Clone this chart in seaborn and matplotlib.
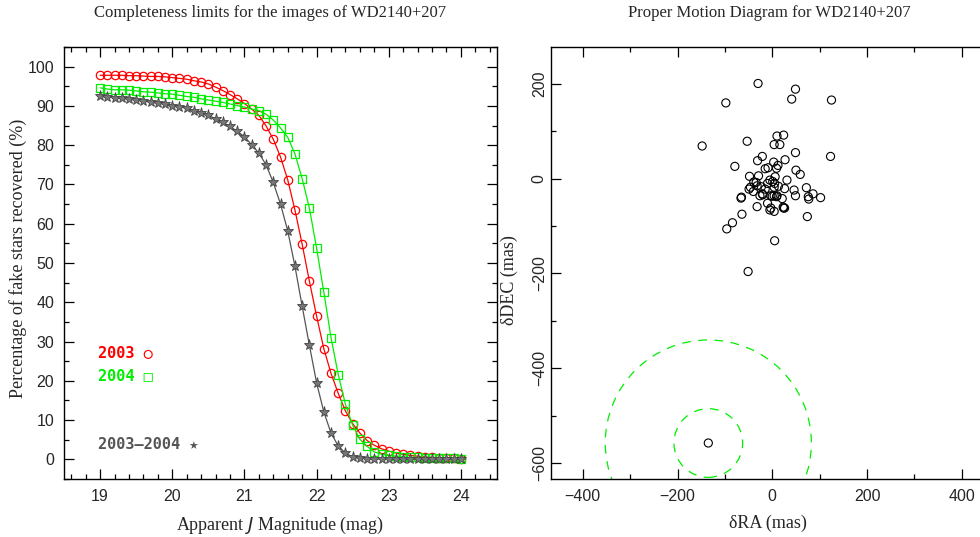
import numpy as np
import seaborn as sns
import matplotlib.pyplot as plt
from matplotlib.patches import Circle
from matplotlib.ticker import MultipleLocator

# ---------------------------------------------------------
# Datos: completitud (porcentaje de estrellas falsas recuperadas)
# ---------------------------------------------------------
mag = np.round(np.arange(19.0, 24.05, 0.1), 1)

rec_2003 = [97.8, 97.8, 97.8, 97.8, 97.7, 97.7, 97.6, 97.5, 97.5, 97.4,
            97.2, 97.0, 96.8, 96.4, 96.1, 95.6, 94.8, 93.9, 92.9, 91.8,
            90.6, 89.2, 87.6, 84.9, 81.5, 77.0, 71.2, 63.5, 54.8, 45.4,
            36.5, 28.2, 21.9, 16.8, 12.3, 9.1, 6.7, 4.8, 3.6, 2.7,
            2.1, 1.6, 1.3, 1.0, 0.8, 0.6, 0.5, 0.4, 0.3, 0.3,
            0.2]
rec_2004 = [94.6, 94.3, 94.1, 94.1, 94.0, 93.8, 93.6, 93.5, 93.3, 93.1,
            93.0, 92.7, 92.4, 92.2, 91.8, 91.5, 91.2, 90.9, 90.5, 90.1,
            89.7, 89.2, 88.8, 87.9, 86.4, 84.4, 82.0, 77.8, 71.5, 64.0,
            53.8, 42.6, 31.0, 21.6, 14.0, 8.7, 5.1, 3.3, 1.9, 1.3,
            1.0, 0.8, 0.6, 0.5, 0.5, 0.4, 0.4, 0.3, 0.3, 0.3,
            0.2]
rec_both = [92.4, 92.3, 92.1, 91.9, 91.8, 91.5, 91.2, 91.0, 90.7, 90.5,
            90.1, 89.8, 89.4, 88.8, 88.3, 87.6, 86.7, 85.8, 84.8, 83.5,
            82.2, 80.1, 78.0, 75.0, 70.5, 65.0, 58.2, 49.2, 39.0, 29.1,
            19.5, 12.1, 6.7, 3.4, 1.6, 0.6, 0.3, 0.2, 0.1, 0.1,
            0.1, 0.1, 0.1, 0.1, 0.1, 0.0, 0.0, 0.0, 0.0, 0.0,
            0.0]

# ---------------------------------------------------------
# Datos: movimiento propio (mas)
# ---------------------------------------------------------
d_ra = [-30, 49, -98, 41, 125, -148, -53, 10, 24, 4, 16, 49, 123, -79, -21,
        -31, 27, 3, 12, 9, -15, -9, 50, 59, -48, -29, 6, -5, 1, 31, -39, -32,
        -46, -23, -15, 4, 13, 26, 46, 72, -65, -66, -49, -40, -26, -21, 0, 9,
        21, 49, 76, 86, 102, -32, -10, 23, -3, -34, -10, 5, 77, -20, -3, 4,
        10, -5, 4, 24, 26, 74, -64, -84, -96, 5, -51]
d_dec = [201, 189, 160, 168, 166, 69, 79, 90, 92, 72, 72, 55, 47, 26, 47,
         38, 40, 35, 28, 22, 21, 23, 18, 9, 5, 6, 4, -3, -6, -3, -7, -15,
         -18, -17, -22, -18, -16, -21, -24, -19, -39, -41, -22, -27, -36, -32,
         -37, -38, -42, -36, -38, -32, -40, -59, -52, -60, -62, -8, -10, -10,
         -43, -34, -36, -36, -36, -66, -69, -62, -62, -80, -75, -93, -106,
         -131, -196]
target_ra, target_dec = -135, -558
r_inner, r_outer = 72.5, 217.5

sns.set_style("ticks")
plt.rcParams['font.family'] = ['Liberation Serif', 'DejaVu Serif']

fig = plt.figure(figsize=(9.8, 5.37), dpi=100)
W, H = 980, 537
ax1 = fig.add_axes([64 / W, 1 - 479 / H, 433 / W, 432 / H])
ax2 = fig.add_axes([551 / W, 1 - 479 / H, 434 / W, 432 / H])

tick_font = dict(family=['Liberation Sans', 'DejaVu Sans'], size=11.5)

# --- panel izquierdo ---
sns.lineplot(x=mag, y=rec_2003, ax=ax1, color='red', lw=0.9, marker='o',
             markersize=6, markerfacecolor='none', markeredgecolor='red',
             markeredgewidth=0.9)
sns.lineplot(x=mag, y=rec_2004, ax=ax1, color='#00ee00', lw=0.9, marker='s',
             markersize=5.5, markerfacecolor='none', markeredgecolor='#00ee00',
             markeredgewidth=0.9)
sns.lineplot(x=mag, y=rec_both, ax=ax1, color='#555555', lw=0.9, marker='*',
             markersize=8, markerfacecolor='#777777', markeredgecolor='#444444',
             markeredgewidth=0.6)

ax1.set_xlim(18.5, 24.5)
ax1.set_ylim(-5, 105)
ax1.xaxis.set_major_locator(MultipleLocator(1))
ax1.xaxis.set_minor_locator(MultipleLocator(0.2))
ax1.yaxis.set_major_locator(MultipleLocator(10))
ax1.yaxis.set_minor_locator(MultipleLocator(5))

lab_font = dict(family=['DejaVu Sans Mono', 'DejaVu Sans'], size=11, weight='bold')
ax1.text(18.97, 27, "2003 ○", color='red', va='center', **lab_font)
ax1.text(18.97, 21.2, "2004 □", color='#00ee00', va='center', **lab_font)
ax1.text(18.97, 3.8, "2003–2004 ★", color='#555555', va='center', **lab_font)

ax1.set_xlabel("Apparent $J$ Magnitude (mag)", fontsize=13)
ax1.set_ylabel("Percentage of fake stars recovered (%)", fontsize=13)
ax1.xaxis.set_label_coords(0.5, -0.083)
ax1.yaxis.set_label_coords(-0.085, 0.51)

# --- panel derecho ---
sns.scatterplot(x=d_ra + [target_ra], y=d_dec + [target_dec], ax=ax2,
                marker='o', s=34, facecolor='none', edgecolor='black',
                linewidth=0.8)
for r in (r_inner, r_outer):
    ax2.add_patch(Circle((target_ra, target_dec), r, fill=False,
                         edgecolor='#00ee00', lw=0.9, ls=(0, (7, 6))))

ax2.set_xlim(-467, 449)
ax2.set_ylim(-634, 278)
ax2.xaxis.set_major_locator(MultipleLocator(200))
ax2.xaxis.set_minor_locator(MultipleLocator(100))
ax2.yaxis.set_major_locator(MultipleLocator(200))
ax2.yaxis.set_minor_locator(MultipleLocator(100))
ax2.set_xlabel("δRA (mas)", fontsize=13)
ax2.set_ylabel("δDEC (mas)", fontsize=13)
ax2.xaxis.set_label_coords(0.5, -0.083)
ax2.yaxis.set_label_coords(-0.075, 0.46)

for ax in (ax1, ax2):
    ax.tick_params(which='both', direction='in', top=True, right=True,
                   color='black', width=0.9)
    ax.tick_params(which='major', length=7.5, pad=7)
    ax.tick_params(which='minor', length=3.5)
    for s in ax.spines.values():
        s.set_visible(True)
        s.set_linewidth(1.0)
        s.set_color('black')
    for lbl in ax.get_xticklabels() + ax.get_yticklabels():
        lbl.set_fontfamily(tick_font['family'])
        lbl.set_fontsize(tick_font['size'])

# el marco derecho del panel queda fuera de la imagen
ax2.tick_params(which='both', right=False)
ax2.tick_params(axis='y', which='major', pad=3)
for lbl in ax2.get_yticklabels():
    lbl.set_rotation(90)
    lbl.set_va('center')

fig.text(270 / W, 1 - 13 / H, "Completeness limits for the images of WD2140+207",
         ha='center', va='center', fontsize=12)
fig.text(769 / W, 1 - 13 / H, "Proper Motion Diagram for WD2140+207",
         ha='center', va='center', fontsize=12)

fig.savefig("out.png", dpi=100)
